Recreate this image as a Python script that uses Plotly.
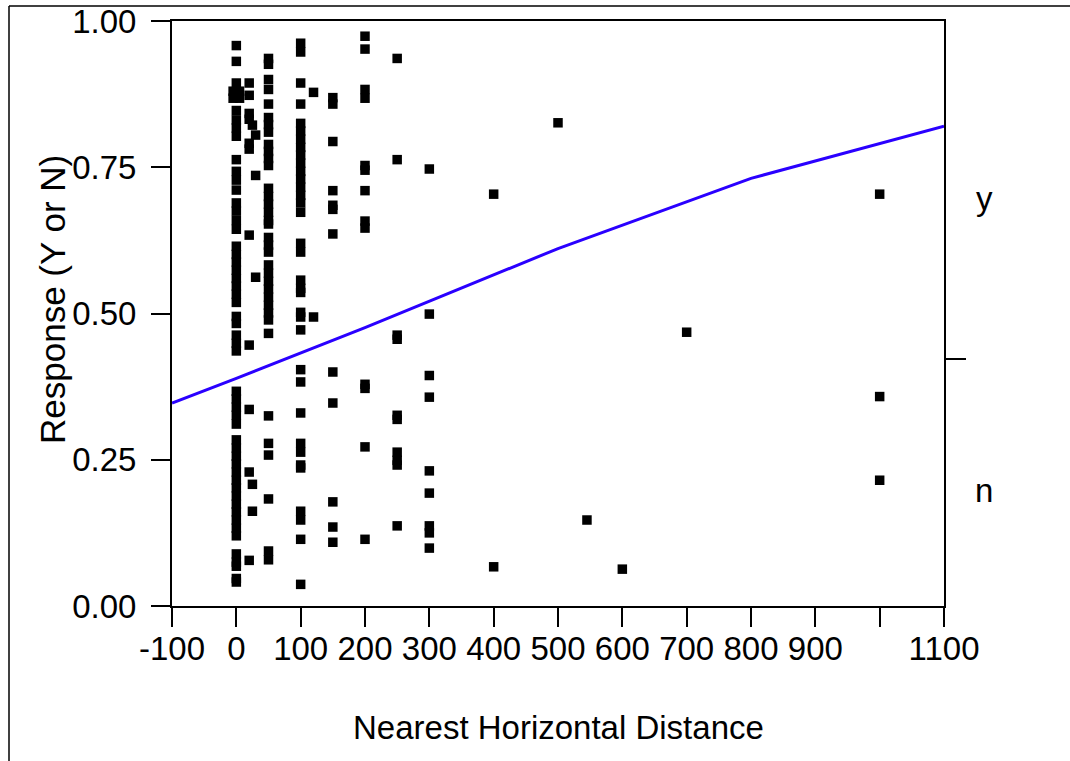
import plotly.graph_objects as go

# ---------------- data ----------------
# jittered plotting positions of responses, grouped by Nearest Horizontal Distance
d0_yes = [0.958, 0.931, 0.894, 0.847, 0.831, 0.817, 0.803, 0.763, 0.743, 0.728, 0.711,
          0.689, 0.675, 0.659, 0.644, 0.615, 0.601, 0.588, 0.574, 0.560, 0.547, 0.533,
          0.519, 0.495, 0.483, 0.463, 0.449, 0.436]
d0_no = [0.367, 0.354, 0.340, 0.326, 0.311, 0.284, 0.270, 0.256, 0.243, 0.229, 0.215,
         0.202, 0.188, 0.174, 0.161, 0.147, 0.133, 0.120, 0.089, 0.075, 0.068, 0.047, 0.041]
dm5_yes = [0.880, 0.868]
d5_yes = [0.880, 0.868]
d20_yes = [0.894, 0.873, 0.842, 0.832, 0.791, 0.781, 0.634, 0.446]
d20_no = [0.336, 0.229, 0.078]
d25_yes = [0.822]
d25_no = [0.208, 0.162]
d30_yes = [0.805, 0.736, 0.562]
d50_yes = [0.936, 0.926, 0.900, 0.883, 0.858, 0.835, 0.823, 0.810, 0.789, 0.777, 0.765,
           0.753, 0.714, 0.700, 0.687, 0.673, 0.659, 0.653, 0.630, 0.617, 0.605, 0.583,
           0.569, 0.555, 0.542, 0.528, 0.514, 0.501, 0.489, 0.466]
d50_no = [0.325, 0.278, 0.258, 0.183, 0.094, 0.079]
d100_yes = [0.962, 0.947, 0.894, 0.858, 0.825, 0.812, 0.798, 0.784, 0.771, 0.757, 0.743,
            0.730, 0.716, 0.702, 0.689, 0.673, 0.620, 0.605, 0.557, 0.543, 0.536, 0.502,
            0.494, 0.472]
d100_no = [0.404, 0.383, 0.330, 0.278, 0.263, 0.241, 0.236, 0.162, 0.147, 0.114, 0.037]
d120_yes = [0.878, 0.494]
d150_yes = [0.869, 0.858, 0.794, 0.710, 0.685, 0.678, 0.636]
d150_no = [0.400, 0.347, 0.178, 0.135, 0.109]
d200_yes = [0.974, 0.952, 0.883, 0.868, 0.753, 0.745, 0.710, 0.658, 0.646]
d200_no = [0.379, 0.372, 0.272, 0.114]
d250_yes = [0.936, 0.763, 0.463, 0.456]
d250_no = [0.326, 0.319, 0.263, 0.249, 0.241, 0.137]
d300_yes = [0.747, 0.499]
d300_no = [0.394, 0.357, 0.231, 0.193, 0.137, 0.125, 0.099]
d400_yes = [0.704]
d400_no = [0.067]
d500_yes = [0.826]
d545_no = [0.147]
d600_no = [0.063]
d700_yes = [0.468]
d1000_yes = [0.704]
d1000_no = [0.358, 0.215]

# fitted logistic probability curve
curve_x = [-100, 0, 200, 500, 800, 1100]
curve_p = [0.347, 0.389, 0.476, 0.611, 0.731, 0.820]

# overall proportion boundary between "n" and "y" on the right axis
split_level = 0.4215
y_ticks = [0.0, 0.25, 0.5, 0.75, 1.0]
x_ticks = [-100, 0, 100, 200, 300, 400, 500, 600, 700, 800, 900, 1000, 1100]
x_tick_text = ["-100", "0", "100", "200", "300", "400", "500", "600", "700", "800", "900", "", "1100"]

groups = [
    (-5, dm5_yes), (5, d5_yes), (0, d0_yes), (0, d0_no), (20, d20_yes), (20, d20_no),
    (25, d25_yes), (25, d25_no), (30, d30_yes), (50, d50_yes), (50, d50_no),
    (100, d100_yes), (100, d100_no), (120, d120_yes), (150, d150_yes), (150, d150_no),
    (200, d200_yes), (200, d200_no), (250, d250_yes), (250, d250_no), (300, d300_yes),
    (300, d300_no), (400, d400_yes), (400, d400_no), (500, d500_yes), (545, d545_no),
    (600, d600_no), (700, d700_yes), (1000, d1000_yes), (1000, d1000_no),
]
px, py = [], []
for d, vals in groups:
    px += [d] * len(vals)
    py += vals

FONT = "Liberation Sans, Arial, sans-serif"
FS = 33

fig = go.Figure()
fig.add_trace(go.Scatter(
    x=px, y=py, mode="markers",
    marker=dict(symbol="square", size=9.5, color="black", line=dict(width=0)),
    showlegend=False, hoverinfo="skip",
))
fig.add_trace(go.Scatter(
    x=curve_x, y=curve_p, mode="lines",
    line=dict(color="#2a00ff", width=3),
    showlegend=False, hoverinfo="skip",
))
# invisible trace to activate the right axis
fig.add_trace(go.Scatter(x=[None], y=[None], yaxis="y2", showlegend=False))

W, H = 1070, 761
L, R, T, B = 172, 126, 21, 155
pw, ph = W - L - R, H - T - B

fig.update_layout(
    width=W, height=H, autosize=False,
    margin=dict(l=L, r=R, t=T, b=B, pad=0, autoexpand=False),
    paper_bgcolor="white", plot_bgcolor="white",
    font=dict(family=FONT, size=FS, color="black"),
    xaxis=dict(
        range=[-100, 1100], tickvals=x_ticks, ticktext=x_tick_text,
        ticks="outside", ticklen=19, tickwidth=2, tickcolor="black",
        showline=True, linewidth=2, linecolor="black", mirror=True,
        showgrid=False, zeroline=False, fixedrange=True, automargin=False,
        ticklabelstandoff=-7,
        tickfont=dict(family=FONT, size=FS, color="black"),
    ),
    yaxis=dict(
        range=[0, 1], tickvals=y_ticks, tickformat=".2f",
        ticks="outside", ticklen=19, tickwidth=2, tickcolor="black",
        showline=True, linewidth=2, linecolor="black", mirror=True,
        showgrid=False, zeroline=False, fixedrange=True, automargin=False,
        ticklabelstandoff=8,
        tickfont=dict(family=FONT, size=FS, color="black"),
    ),
    yaxis2=dict(
        overlaying="y", side="right", range=[0, 1],
        tickvals=[split_level], showticklabels=False,
        ticks="outside", ticklen=21, tickwidth=2, tickcolor="black",
        showline=False, showgrid=False, zeroline=False, fixedrange=True,
        automargin=False,
    ),
    annotations=[
        dict(text="Nearest Horizontal Distance", xref="paper", yref="paper",
             x=0.5, y=-(727 - 606) / ph, xanchor="center", yanchor="middle",
             showarrow=False, font=dict(family=FONT, size=FS, color="black")),
        dict(text="Response (Y or N)", xref="paper", yref="paper",
             x=-(172 - 52) / pw, y=(606 - 300) / ph, xanchor="center", yanchor="middle",
             textangle=-90, showarrow=False,
             font=dict(family=FONT, size=35, color="black")),
        dict(text="y", xref="paper", yref="y", x=1 + (984 - 944) / pw,
             y=(1 + split_level) / 2, xanchor="center", yanchor="middle", yshift=-8,
             showarrow=False, font=dict(family=FONT, size=FS, color="black")),
        dict(text="n", xref="paper", yref="y", x=1 + (984 - 944) / pw,
             y=split_level / 2, xanchor="center", yanchor="middle", yshift=-8,
             showarrow=False, font=dict(family=FONT, size=FS, color="black")),
    ],
    shapes=[
        dict(type="line", xref="paper", yref="paper",
             x0=(9 - L) / pw, x1=(W - L) / pw + 0.01, y0=(606 - 6) / ph, y1=(606 - 6) / ph,
             line=dict(color="black", width=1.5)),
        dict(type="line", xref="paper", yref="paper",
             x0=(9 - L) / pw, x1=(9 - L) / pw, y0=(606 - 6) / ph, y1=-(H - 606) / ph - 0.01,
             line=dict(color="black", width=1.5)),
    ],
)

fig.write_html("out.html")
